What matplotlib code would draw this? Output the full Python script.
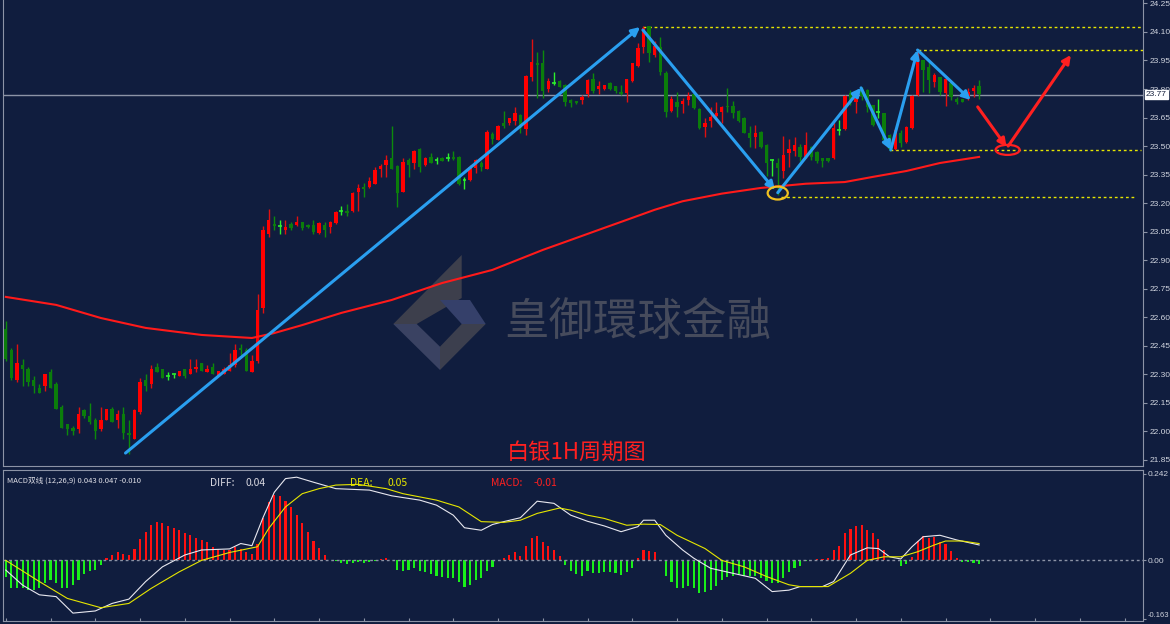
import matplotlib
matplotlib.use("Agg")
import matplotlib.pyplot as plt
import numpy as np
from matplotlib.patches import Polygon, Ellipse

plt.rcParams['font.family'] = ['Noto Sans CJK SC', 'DejaVu Sans']

# candles, silver 1H
opens = [22.54, 22.43, 22.27, 22.35, 22.33, 22.27, 22.23, 22.24, 22.31, 22.25,
         22.13, 22.04, 22.02, 22.01, 22.11, 22.08, 22.06, 22.01, 22.06, 22.12,
         22.06, 22.09, 21.99, 21.96, 22.10, 22.27, 22.25, 22.34, 22.33, 22.29,
         22.30, 22.29, 22.33, 22.30, 22.33, 22.36, 22.31, 22.34, 22.29, 22.30,
         22.32, 22.35, 22.44, 22.43, 22.31, 22.37, 22.65, 23.04, 23.09, 23.08,
         23.06, 23.09, 23.085, 23.10, 23.085, 23.085, 23.045, 23.085, 23.073, 23.094,
         23.16, 23.16, 23.16, 23.26, 23.285, 23.283, 23.30, 23.38, 23.40, 23.436,
         23.395, 23.26, 23.427, 23.413, 23.485, 23.40, 23.445, 23.427, 23.436, 23.436,
         23.445, 23.445, 23.32, 23.322, 23.383, 23.41, 23.38, 23.564, 23.533, 23.62,
         23.623, 23.634, 23.664, 23.59, 23.862, 23.935, 23.935, 23.80, 23.834, 23.844,
         23.82, 23.742, 23.737, 23.742, 23.774, 23.851, 23.80, 23.80, 23.834, 23.816,
         23.786, 23.781, 23.842, 23.921, 24.023, 24.13, 23.979, 24.023, 23.886, 23.686,
         23.734, 23.722, 23.742, 23.774, 23.693, 23.602, 23.632, 23.658, 23.681, 23.711,
         23.711, 23.686, 23.646, 23.567, 23.55, 23.576, 23.506, 23.427, 23.413, 23.371,
         23.463, 23.476, 23.497, 23.444, 23.493, 23.47, 23.436, 23.436, 23.436, 23.585,
         23.59, 23.777, 23.733, 23.798, 23.795, 23.716, 23.68, 23.672, 23.558, 23.483,
         23.57, 23.523, 23.593, 23.768, 23.952, 23.917, 23.838, 23.865, 23.777, 23.83,
         23.75, 23.746, 23.763, 23.791, 23.816]
highs = [22.58, 22.44, 22.46, 22.38, 22.34, 22.29, 22.25, 22.30, 22.33, 22.26,
         22.14, 22.04, 22.03, 22.13, 22.12, 22.15, 22.07, 22.13, 22.12, 22.13,
         22.11, 22.13, 22.06, 22.12, 22.28, 22.30, 22.35, 22.36, 22.33, 22.31,
         22.30, 22.32, 22.33, 22.38, 22.38, 22.36, 22.35, 22.36, 22.32, 22.34,
         22.41, 22.46, 22.46, 22.44, 22.40, 22.72, 23.08, 23.17, 23.13, 23.11,
         23.11, 23.10, 23.13, 23.10, 23.09, 23.11, 23.10, 23.10, 23.105, 23.16,
         23.185, 23.195, 23.26, 23.30, 23.305, 23.336, 23.39, 23.406, 23.453, 23.606,
         23.40, 23.436, 23.436, 23.48, 23.49, 23.445, 23.466, 23.445, 23.44, 23.466,
         23.474, 23.45, 23.336, 23.40, 23.43, 23.424, 23.585, 23.576, 23.61, 23.685,
         23.65, 23.707, 23.67, 23.874, 24.063, 23.993, 24.005, 23.86, 23.89, 23.848,
         23.824, 23.746, 23.737, 23.766, 23.852, 23.883, 23.844, 23.822, 23.838, 23.818,
         23.82, 23.851, 23.935, 24.04, 24.13, 24.132, 24.05, 24.072, 23.896, 23.764,
         23.786, 23.751, 23.786, 23.778, 23.698, 23.646, 23.704, 23.734, 23.712, 23.804,
         23.739, 23.692, 23.652, 23.606, 23.611, 23.578, 23.51, 23.43, 23.436, 23.553,
         23.536, 23.55, 23.51, 23.576, 23.50, 23.475, 23.436, 23.436, 23.62, 23.637,
         23.768, 23.794, 23.785, 23.812, 23.798, 23.716, 23.75, 23.676, 23.566, 23.592,
         23.584, 23.605, 23.768, 24.0, 23.955, 23.944, 23.882, 23.865, 23.856, 23.834,
         23.76, 23.746, 23.804, 23.821, 23.847]
lows = [22.37, 22.27, 22.26, 22.24, 22.24, 22.20, 22.20, 22.21, 22.23, 22.12,
        22.02, 21.98, 21.98, 21.99, 22.07, 22.04, 21.96, 22.00, 22.06, 22.05,
        22.02, 21.96, 21.88, 21.96, 22.09, 22.21, 22.23, 22.31, 22.28, 22.27,
        22.28, 22.29, 22.28, 22.30, 22.31, 22.32, 22.31, 22.30, 22.29, 22.30,
        22.32, 22.34, 22.40, 22.32, 22.31, 22.36, 22.62, 23.02, 23.06, 23.04,
        23.04, 23.06, 23.08, 23.06, 23.07, 23.04, 23.04, 23.02, 23.045, 23.09,
        23.14, 23.13, 23.155, 23.16, 23.23, 23.28, 23.30, 23.34, 23.34, 23.378,
        23.182, 23.258, 23.34, 23.38, 23.366, 23.395, 23.41, 23.405, 23.42, 23.42,
        23.425, 23.295, 23.273, 23.318, 23.357, 23.37, 23.378, 23.51, 23.53, 23.593,
        23.61, 23.61, 23.567, 23.558, 23.844, 23.751, 23.751, 23.783, 23.82, 23.808,
        23.711, 23.704, 23.722, 23.722, 23.76, 23.778, 23.774, 23.795, 23.795, 23.78,
        23.77, 23.734, 23.838, 23.918, 23.988, 23.944, 23.967, 23.874, 23.651, 23.68,
        23.651, 23.672, 23.715, 23.694, 23.588, 23.55, 23.60, 23.636, 23.62, 23.681,
        23.65, 23.628, 23.567, 23.494, 23.489, 23.49, 23.343, 23.343, 23.243, 23.33,
        23.392, 23.45, 23.42, 23.436, 23.425, 23.41, 23.392, 23.415, 23.43, 23.558,
        23.585, 23.716, 23.676, 23.742, 23.68, 23.605, 23.646, 23.523, 23.476, 23.478,
        23.494, 23.518, 23.588, 23.763, 23.786, 23.78, 23.81, 23.768, 23.71, 23.742,
        23.72, 23.733, 23.742, 23.76, 23.746]
closes = [22.38, 22.28, 22.36, 22.33, 22.26, 22.24, 22.20, 22.30, 22.23, 22.12,
          22.02, 22.01, 22.00, 22.09, 22.08, 22.05, 22.00, 22.06, 22.12, 22.05,
          22.09, 21.99, 21.98, 22.11, 22.26, 22.24, 22.33, 22.31, 22.28, 22.29,
          22.30, 22.32, 22.29, 22.33, 22.34, 22.32, 22.33, 22.30, 22.32, 22.33,
          22.35, 22.43, 22.43, 22.32, 22.37, 22.64, 23.06, 23.11, 23.08, 23.08,
          23.075, 23.07, 23.10, 23.07, 23.073, 23.05, 23.095, 23.06, 23.10, 23.155,
          23.16, 23.15, 23.255, 23.277, 23.273, 23.318, 23.375, 23.396, 23.427, 23.38,
          23.252, 23.415, 23.40, 23.474, 23.392, 23.436, 23.413, 23.427, 23.424, 23.436,
          23.432, 23.30, 23.32, 23.392, 23.427, 23.392, 23.576, 23.536, 23.606, 23.606,
          23.646, 23.676, 23.594, 23.870, 23.944, 23.927, 23.79, 23.844, 23.834, 23.812,
          23.734, 23.725, 23.728, 23.76, 23.848, 23.79, 23.816, 23.82, 23.80, 23.79,
          23.774, 23.851, 23.935, 24.014, 24.12, 23.99, 24.026, 23.892, 23.681, 23.746,
          23.707, 23.739, 23.764, 23.699, 23.594, 23.623, 23.655, 23.676, 23.704, 23.704,
          23.672, 23.634, 23.571, 23.541, 23.567, 23.494, 23.413, 23.427, 23.384, 23.453,
          23.483, 23.506, 23.441, 23.505, 23.44, 23.423, 23.423, 23.423, 23.593, 23.585,
          23.763, 23.725, 23.763, 23.763, 23.707, 23.61, 23.68, 23.532, 23.483, 23.585,
          23.514, 23.602, 23.763, 23.944, 23.90, 23.847, 23.874, 23.786, 23.851, 23.76,
          23.733, 23.733, 23.786, 23.807, 23.774]

# moving average read at a few candles
ma_idx = [0, 9, 17, 25, 35, 44, 48, 53, 60, 69, 78, 87, 96, 100, 107, 111, 116,
          121, 128, 135, 143, 150, 155, 161, 167, 174]
ma_val = [22.707, 22.665, 22.596, 22.544, 22.507, 22.491, 22.517, 22.559, 22.623,
          22.691, 22.780, 22.849, 22.954, 22.996, 23.070, 23.112, 23.165, 23.210,
          23.250, 23.280, 23.302, 23.311, 23.338, 23.369, 23.411, 23.443]

# MACD histogram per candle
macd_hist = [-0.045, -0.078, -0.078, -0.078, -0.083, -0.083, -0.078, -0.064, -0.055, -0.064,
             -0.076, -0.078, -0.069, -0.055, -0.039, -0.030, -0.027, -0.014, 0.007, 0.015,
             0.024, 0.019, 0.015, 0.031, 0.061, 0.080, 0.098, 0.106, 0.105, 0.096,
             0.091, 0.084, 0.075, 0.070, 0.063, 0.057, 0.052, 0.038, 0.031, 0.029,
             0.029, 0.038, 0.033, 0.024, 0.017, 0.047, 0.117, 0.163, 0.182, 0.180,
             0.165, 0.149, 0.126, 0.103, 0.078, 0.054, 0.035, 0.015, 0.001, -0.002,
             -0.006, -0.011, -0.008, -0.004, -0.006, -0.004, -0.002, 0.003, 0.006, 0.0,
             -0.027, -0.030, -0.027, -0.022, -0.030, -0.033, -0.039, -0.043, -0.045, -0.048,
             -0.048, -0.061, -0.073, -0.070, -0.055, -0.050, -0.030, -0.018, 0.0, 0.007,
             0.016, 0.022, 0.012, 0.040, 0.063, 0.069, 0.050, 0.041, 0.028, 0.013,
             -0.013, -0.030, -0.039, -0.044, -0.030, -0.036, -0.036, -0.032, -0.033, -0.036,
             -0.041, -0.033, -0.020, 0.006, 0.028, 0.026, 0.022, 0.0, -0.043, -0.061,
             -0.076, -0.078, -0.071, -0.076, -0.092, -0.089, -0.083, -0.071, -0.055, -0.045,
             -0.043, -0.039, -0.043, -0.043, -0.043, -0.048, -0.058, -0.062, -0.064, -0.050,
             -0.032, -0.020, -0.015, -0.001, 0.001, 0.003, 0.003, 0.006, 0.029, 0.041,
             0.076, 0.088, 0.097, 0.098, 0.086, 0.075, 0.059, 0.029, 0.0, 0.0,
             -0.015, -0.011, 0.010, 0.054, 0.069, 0.063, 0.066, 0.050, 0.045, 0.026,
             0.007, -0.004, -0.004, -0.006, -0.011]

diff_idx = [0, 3, 6, 9, 12, 16, 19, 22, 25, 28, 32, 35, 40, 42, 44, 46, 48, 50, 52, 55,
            59, 65, 69, 74, 77, 80, 82, 85, 87, 89, 92, 95, 98, 101, 104, 107, 110, 113,
            114, 116, 118, 121, 123, 126, 130, 134, 137, 140, 142, 146, 148, 151, 154,
            156, 158, 160, 162, 164, 167, 170, 172, 174]
diff_val = [-0.027, -0.069, -0.096, -0.101, -0.147, -0.141, -0.120, -0.108, -0.059, -0.018,
            0.015, 0.029, 0.032, 0.047, 0.041, 0.120, 0.190, 0.228, 0.232, 0.218,
            0.200, 0.196, 0.180, 0.168, 0.154, 0.126, 0.091, 0.084, 0.100, 0.108,
            0.119, 0.165, 0.159, 0.126, 0.109, 0.096, 0.080, 0.094, 0.112, 0.112,
            0.070, 0.029, 0.006, -0.022, -0.036, -0.050, -0.087, -0.083, -0.073, -0.073,
            -0.059, 0.015, 0.035, 0.033, 0.010, 0.004, 0.038, 0.066, 0.070, 0.057,
            0.050, 0.043]
dea_idx = [0, 6, 11, 17, 22, 26, 31, 35, 40, 45, 47, 50, 53, 56, 59, 63, 68, 71, 77, 81,
           85, 89, 92, 95, 99, 101, 104, 107, 111, 114, 117, 120, 125, 128, 132, 136,
           140, 142, 147, 151, 154, 157, 160, 163, 166, 168, 171, 174]
dea_val = [0.0, -0.059, -0.106, -0.132, -0.120, -0.078, -0.032, 0.0, 0.022, 0.038,
           0.089, 0.149, 0.186, 0.200, 0.210, 0.212, 0.200, 0.186, 0.168, 0.149,
           0.108, 0.106, 0.112, 0.131, 0.146, 0.140, 0.126, 0.117, 0.098, 0.101,
           0.100, 0.070, 0.033, 0.0, -0.018, -0.045, -0.068, -0.073, -0.073, -0.036,
           0.0, 0.010, 0.010, 0.024, 0.043, 0.054, 0.054, 0.047]

price_ticks = [21.85, 22.00, 22.15, 22.30, 22.45, 22.60, 22.75, 22.90, 23.05,
               23.20, 23.35, 23.50, 23.65, 23.80, 23.95, 24.10, 24.25]
macd_ticks = [0.242, 0.0, -0.163]
macd_labels = ['0.242', '0.00', '-0.163']
last_price = 23.77

# hand-drawn analysis marks (candle index, price)
blue_arrows = [((21.4, 21.886), (113.4, 24.126)),
               ((113.9, 24.11), (137.5, 23.269)),
               ((138.0, 23.255), (152.9, 23.806)),
               ((152.9, 23.806), (158.2, 23.48)),
               ((158.2, 23.48), (163.0, 24.005)),
               ((163.0, 24.005), (172.5, 23.742))]
red_arrows = [((173.75, 23.706), (178.9, 23.495)),
              ((179.2, 23.50), (190.4, 23.979))]
levels = [(24.126, 114.0, 203.5), (24.005, 163.0, 203.5),
          (23.48, 158.0, 203.0), (23.233, 138.5, 202.0)]

bg = '#101d3e'
grey = '#8c93a6'
tickfont = dict(family='Liberation Sans', size=6)
fig = plt.figure(figsize=(11.7, 6.24), dpi=100, facecolor=bg)
W, H = 1170.0, 624.0
ax = fig.add_axes([3 / W, 1 - 466 / H, 1140 / W, 466 / H], facecolor=bg)
mx = fig.add_axes([3 / W, 3 / H, 1140 / W, 151 / H], facecolor=bg)

o = np.array(opens); h = np.array(highs); l = np.array(lows); c = np.array(closes)
x = np.arange(len(o))
up = c > o + 0.003
down = c < o - 0.003
doji = ~(up | down)

ax.vlines(x[up], l[up], h[up], color='#e01010', lw=1, zorder=3)
ax.vlines(x[down], l[down], h[down], color='#0c8a0c', lw=1, zorder=3)
ax.vlines(x[doji], l[doji], h[doji], color='#2cf02c', lw=1, zorder=3)
ax.bar(x[up], np.maximum(c[up] - o[up], 0.006), bottom=o[up], width=0.6,
       color='#ff0000', zorder=4)
ax.bar(x[down], np.maximum(o[down] - c[down], 0.006), bottom=c[down], width=0.6,
       color='#0b7d0b', zorder=4)
ax.hlines(c[doji], x[doji] - 0.35, x[doji] + 0.35, color='#2cf02c', lw=1.2, zorder=4)

ax.plot(ma_idx, ma_val, color='#ff1a1a', lw=1.5, zorder=5)
ax.axhline(last_price, color=grey, lw=1, zorder=2)

for yv, x0, x1 in levels:
    ax.hlines(yv, x0, x1, color='#e6e600', lw=1, linestyles=(0, (2, 2)), zorder=2)

for s, e in blue_arrows:
    ax.annotate('', xy=e, xytext=s, zorder=6,
                arrowprops=dict(arrowstyle='-|>', color='#2a9ff0', lw=2.2,
                                mutation_scale=12, shrinkA=0, shrinkB=0))
for s, e in red_arrows:
    ax.annotate('', xy=e, xytext=s, zorder=6,
                arrowprops=dict(arrowstyle='-|>', color='#ff2020', lw=2.2,
                                mutation_scale=12, shrinkA=0, shrinkB=0))
ax.add_patch(Ellipse((179.1, 23.48), 4.3, 0.053, fill=False, ec='#ff2020', lw=1.6, zorder=6))
ax.add_patch(Ellipse((138.0, 23.253), 3.6, 0.068, fill=False, ec='#f0c020', lw=1.6, zorder=6))

# watermark
def fp(px, py):
    return (px / W, 1 - py / H)

logo = [([(461.7, 255), (461.7, 298), (416.7, 324), (393.3, 324)], '#3d3f4c'),
        ([(393.3, 324), (416.7, 324), (440, 346.7), (440, 370)], '#3a4262'),
        ([(440, 370), (440, 346.7), (461.7, 324), (485.7, 324)], '#3c3f4e'),
        ([(440, 300), (470, 300), (485.7, 324), (461.7, 324)], '#35406a')]
for pts, col in logo:
    ax.add_patch(Polygon([fp(*p) for p in pts], closed=True, fc=col, ec='none',
                         transform=fig.transFigure, zorder=1))
ax.text(*fp(638, 322), '皇御環球金融', transform=fig.transFigure, ha='center', va='center',
        fontsize=32, color='#464b5c', zorder=1)
ax.text(*fp(577, 452), '白银1H周期图', transform=fig.transFigure, ha='center', va='center',
        fontsize=16, color='#ff2020', zorder=7)

ax.set_xlim(-0.5, 203.3)
ax.set_ylim(21.818, 24.268)
ax.yaxis.tick_right()
ax.set_yticks(price_ticks)
ax.set_yticklabels(['%.2f' % t for t in price_ticks], fontdict=tickfont)
ax.tick_params(axis='y', colors=grey, labelcolor='#d0d4de', length=3, pad=1.5)
ax.set_xticks([])
ax.spines['top'].set_visible(False)
for side in ['right', 'bottom', 'left']:
    ax.spines[side].set_color(grey)
ax.text(1.0025, last_price, '%.2f' % last_price, transform=ax.get_yaxis_transform(),
        fontdict=tickfont, color='#1a2440', va='center', ha='left',
        bbox=dict(boxstyle='square,pad=0.15', fc='white', ec='white'), zorder=8, clip_on=False)

# MACD panel
hist = np.array(macd_hist)
hx = np.arange(len(hist))
mx.bar(hx[hist > 0], hist[hist > 0], width=0.38, color='#ff1010')
mx.bar(hx[hist < 0], hist[hist < 0], width=0.38, color='#19f019')
mx.axhline(0, color=grey, lw=1, ls=(0, (2, 2)))
mx.plot(diff_idx, diff_val, color='#e8e8f0', lw=0.8)
mx.plot(dea_idx, dea_val, color='#e6e600', lw=0.8)
mx.set_xlim(-0.5, 203.3)
mx.set_ylim(-0.169, 0.252)
mx.yaxis.tick_right()
mx.set_yticks(macd_ticks)
mx.set_yticklabels(macd_labels, fontdict=tickfont)
low_lab = mx.get_yticklabels()[-1]
low_lab.set_va('bottom')
low_lab.set_fontsize(5.5)
mx.tick_params(axis='y', colors=grey, labelcolor='#d0d4de', length=2, pad=1)
mx.set_xticks(np.arange(0, 204, 8))
mx.tick_params(axis='x', direction='in', length=2, colors=grey, labelbottom=False)
for side in ['top', 'right', 'bottom', 'left']:
    mx.spines[side].set_color(grey)

mx.text(4 / 1140, 0.955, 'MACD双线 (12,26,9) 0.043 0.047 -0.010', transform=mx.transAxes,
        fontsize=5.5, color='#e0e0e8', va='top')
for px, txt, col in [(210, 'DIFF:', '#d8d8e0'), (246, '0.04', '#d8d8e0'),
                     (350, 'DEA:', '#e6e600'), (387, '0.05', '#e6e600'),
                     (491, 'MACD:', '#ff2020'), (534, '-0.01', '#ff2020')]:
    mx.text((px - 3) / 1140, 0.95, txt, transform=mx.transAxes, fontsize=7.5,
            color=col, va='top')

fig.savefig('out.png', dpi=100, facecolor=bg)
